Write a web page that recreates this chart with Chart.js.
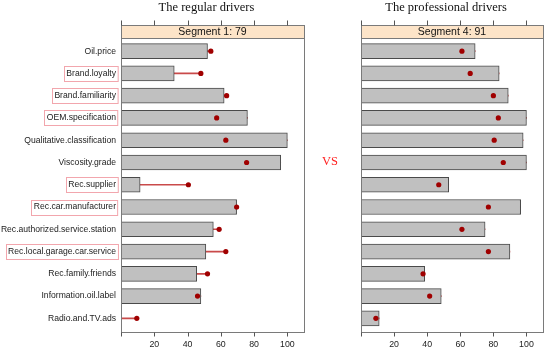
<!DOCTYPE html>
<html lang="en">
<head>
    <meta charset="UTF-8">
    <title>Regular vs professional drivers</title>
    <style>
        body { margin: 0; background: #fff; }
        .panel { position: absolute; top: 0; height: 354px; }
        #vs {
            position: absolute; left: 316px; top: 154px; width: 28px;
            text-align: center; color: #ff2020;
            font-family: 'Liberation Serif', serif; font-size: 12.5px;
        }
    </style>
</head>
<body>
<div class="panel" style="left:0; width:310px;"><canvas id="regular"></canvas></div>
<div class="panel" style="left:300px; width:250px;"><canvas id="professional"></canvas></div>
<div id="vs">VS</div>

<script src="https://cdn.jsdelivr.net/npm/chart.js"></script>
<script>
    // les données
    const labels = ['Oil.price', 'Brand.loyalty', 'Brand.familiarity', 'OEM.specification',
        'Qualitative.classification', 'Viscosity.grade', 'Rec.supplier', 'Rec.car.manufacturer',
        'Rec.authorized.service.station', 'Rec.local.garage.car.service', 'Rec.family.friends',
        'Information.oil.label', 'Radio.and.TV.ads'];
    const highlighted = ['Brand.loyalty', 'Brand.familiarity', 'OEM.specification', 'Rec.supplier',
        'Rec.car.manufacturer', 'Rec.local.garage.car.service'];

    const regularBars = [52, 32, 62, 76, 100, 96, 11.5, 69.5, 55.5, 51, 45.5, 48, 0];
    const regularDots = [54, 48, 63.5, 57.5, 63, 75.5, 40.5, 69.5, 59, 63, 52, 46, 9.5];
    const proBars = [69, 83.5, 89, 100, 98, 100, 53, 96.5, 75, 90, 38.5, 48.5, 11];
    const proDots = [61, 66, 80, 83, 80.5, 86, 47, 77, 61, 77, 37.5, 41.5, 9];

    const xTicks = [0, 20, 40, 60, 80, 100];
    const titles = ['The regular drivers', 'The professional drivers'];
    const segments = ['Segment 1: 79', 'Segment 4: 91'];

    // cadre, bandeau, titre et ticks dessinés à la main
    const panelPlugin = {
        id: 'panel',
        afterDraw(chart, args, opts) {
            const ctx = chart.ctx;
            const a = chart.chartArea;
            const xs = chart.scales.x;
            const left = Math.round(a.left) + 0.5, right = Math.round(a.right) + 0.5;
            const top = 25.5, stripBottom = 38.5, bottom = 332.5;
            ctx.save();
            // bandeau
            ctx.fillStyle = '#fde4c8';
            ctx.fillRect(left, top, right - left, stripBottom - top);
            ctx.strokeStyle = '#7a7a7a';
            ctx.lineWidth = 1;
            ctx.beginPath();
            ctx.moveTo(left, stripBottom); ctx.lineTo(right, stripBottom);
            ctx.stroke();
            ctx.strokeRect(left, top, right - left, bottom - top);
            // ticks haut et bas
            ctx.strokeStyle = '#555';
            ctx.beginPath();
            xTicks.forEach(v => {
                const px = Math.round(xs.getPixelForValue(v)) + 0.5;
                ctx.moveTo(px, top - 5); ctx.lineTo(px, top);
                ctx.moveTo(px, bottom); ctx.lineTo(px, bottom + 4);
            });
            ctx.stroke();
            // texte du bandeau
            ctx.fillStyle = '#111';
            ctx.font = '10.5px "Liberation Sans", Arial, sans-serif';
            ctx.textAlign = 'center';
            ctx.textBaseline = 'middle';
            ctx.fillText(opts.header, (a.left + a.right) / 2, 32.5);
            // titre
            ctx.font = '12.5px "Liberation Serif", serif';
            ctx.textBaseline = 'alphabetic';
            ctx.fillText(opts.title, (a.left + a.right) / 2 - 6, 11);
            // cadres roses autour de certains labels
            if (opts.boxes) {
                const ys = chart.scales.y;
                ctx.font = '8.6px "Liberation Sans", Arial, sans-serif';
                ctx.strokeStyle = '#f2a6ad';
                labels.forEach((lab, i) => {
                    if (!highlighted.includes(lab)) return;
                    const w = ctx.measureText(lab).width;
                    const cy = ys.getPixelForValue(i);
                    const rx = Math.round(ys.right - 4) + 0.5;
                    ctx.strokeRect(Math.round(rx - w - 4) + 0.5, Math.round(cy - 7.5) + 0.5, w + 4, 15);
                });
            }
            ctx.restore();
        }
    };

    function makeChart(id, bars, dots, idx, yWidth, padRight, showLabels) {
        return new Chart(document.getElementById(id), {
            data: {
                labels: labels,
                datasets: [{
                    type: 'line',
                    indexAxis: 'y',
                    data: dots,
                    showLine: false,
                    pointRadius: 2.6,
                    pointBackgroundColor: '#a00000',
                    pointBorderWidth: 0,
                    order: 0
                }, {
                    type: 'bar',
                    data: bars,
                    backgroundColor: '#c0c0c0',
                    borderColor: '#4a4a4a',
                    borderWidth: 1,
                    barThickness: 15,
                    grouped: false,
                    order: 1
                }, {
                    type: 'bar',
                    data: bars.map((b, i) => [b, dots[i]]),
                    backgroundColor: '#c94a4a',
                    borderWidth: 0,
                    barThickness: 1,
                    grouped: false,
                    order: 2
                }]
            },
            options: {
                indexAxis: 'y',
                responsive: false,
                animation: false,
                layout: { padding: { top: 40, right: padRight, left: 0, bottom: 0 } },
                plugins: {
                    legend: { display: false },
                    tooltip: { enabled: false },
                    panel: { title: titles[idx], header: segments[idx], boxes: showLabels }
                },
                scales: {
                    x: {
                        type: 'linear',
                        min: 0,
                        max: 110,
                        grid: { display: false, drawTicks: false },
                        border: { display: false },
                        ticks: {
                            stepSize: 20,
                            includeBounds: false,
                            padding: 10,
                            color: '#222',
                            font: { family: '"Liberation Sans", Arial, sans-serif', size: 8.8 },
                            callback: v => (v === 0 ? '' : v)
                        },
                        afterFit: s => { s.height = 24.5; }
                    },
                    y: {
                        type: 'category',
                        offset: true,
                        grid: { display: false, drawTicks: false },
                        border: { display: false },
                        ticks: {
                            display: showLabels,
                            padding: 5,
                            color: '#222',
                            font: { family: '"Liberation Sans", Arial, sans-serif', size: 8.6 }
                        },
                        afterFit: s => { s.width = yWidth; }
                    }
                }
            },
            plugins: [panelPlugin]
        });
    }

    const regularCanvas = document.getElementById('regular');
    regularCanvas.width = 310; regularCanvas.height = 354;
    const proCanvas = document.getElementById('professional');
    proCanvas.width = 250; proCanvas.height = 354;

    makeChart('regular', regularBars, regularDots, 0, 121, 6, true);
    makeChart('professional', proBars, proDots, 1, 61, 7, false);
</script>
</body>
</html>
